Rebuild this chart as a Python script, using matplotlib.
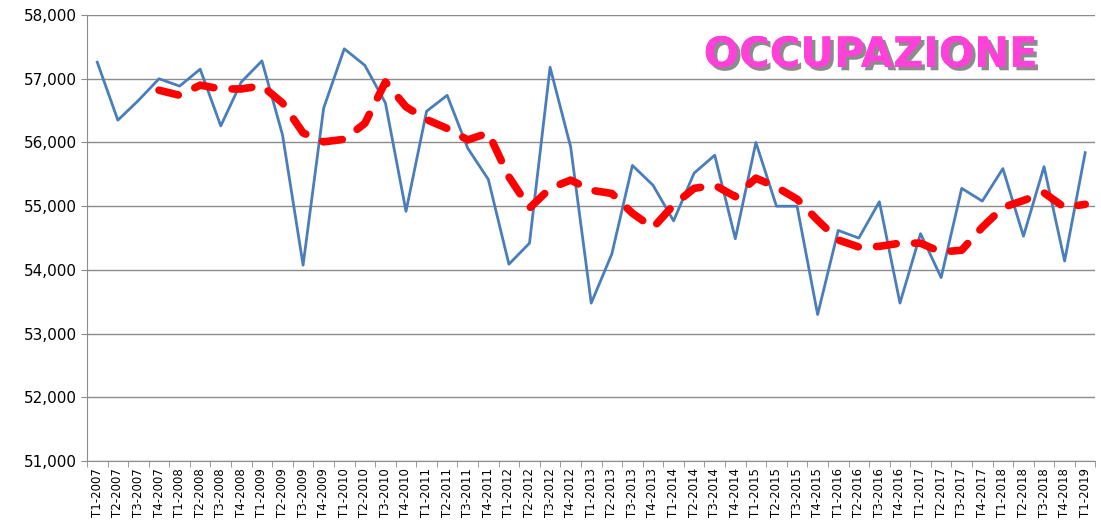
import numpy as np
import matplotlib
matplotlib.use("Agg")
import matplotlib.pyplot as plt
import matplotlib.patheffects as pe
from matplotlib.ticker import FuncFormatter, FixedLocator

years = list(range(2007, 2020))
quarters = ["T{}-{}".format(q, y) for y in years for q in range(1, 5)][:49]

# occupati (migliaia), valori trimestrali
occupati = [57260, 56350, 56660, 57000, 56885, 57150, 56260, 56950, 57280, 56120,
            54075, 56540, 57470, 57210, 56620, 54920, 56490, 56740, 55910, 55420,
            54090, 54420, 57180, 55930, 53480, 54250, 55640, 55330, 54770, 55520,
            55800, 54490, 56000, 55000, 55000, 53300, 54620, 54500, 55070, 53480,
            54570, 53880, 55280, 55080, 55590, 54530, 55620, 54140, 55840]

# media mobile (da T4-2007)
media_start = 3
media = [56820, 56740, 56900, 56840, 56840, 56890, 56620, 56150, 56010, 56050,
         56300, 56950, 56560, 56360, 56220, 56040, 56150, 55460, 54970, 55280,
         55410, 55250, 55200, 54890, 54660, 55020, 55280, 55330, 55150, 55440,
         55300, 55110, 54780, 54470, 54360, 54370, 54420, 54420, 54280, 54310,
         54670, 54980, 55090, 55210, 54980, 55030]

fig = plt.figure(figsize=(11.01, 5.27), dpi=100)
ax = fig.add_axes([0.079, 0.125, 0.916, 0.8465])

x = np.arange(len(quarters))
ax.plot(x, occupati, color="#4A7EBB", lw=2.0, zorder=3)
xm = np.arange(media_start, media_start + len(media))
ax.plot(xm, media, color="#FF0000", lw=5.5, linestyle=(0, (2.6, 2.4)),
        dash_capstyle="round", solid_capstyle="round", zorder=4)

ax.set_ylim(51000, 58000)
ax.set_yticks(np.arange(51000, 58001, 1000))
ax.yaxis.set_major_formatter(FuncFormatter(lambda v, p: "{:,.0f}".format(v)))
ax.grid(axis="y", color="#8C8C8C", lw=1.0)
ax.set_axisbelow(True)

ax.set_xlim(-0.5, len(quarters) - 0.5)
ax.set_xticks(x)
ax.set_xticklabels(quarters, rotation=90, fontsize=8.5)
ax.xaxis.set_minor_locator(FixedLocator(np.arange(-0.5, len(quarters), 1.0)))
ax.tick_params(axis="x", which="major", length=0, pad=5)
ax.tick_params(axis="x", which="minor", length=4, color="#8C8C8C")
ax.tick_params(axis="y", length=4, color="#8C8C8C", labelsize=11)

for s in ["top", "right"]:
    ax.spines[s].set_visible(False)
for s in ["left", "bottom"]:
    ax.spines[s].set_color("#8C8C8C")

fig.text(0.791, 0.896, "OCCUPAZIONE", ha="center", va="center",
         fontsize=30, fontweight="bold", color="#FF40D9",
         path_effects=[pe.withSimplePatchShadow(offset=(2.5, -2.5), shadow_rgbFace="#808080", alpha=0.9),
                       pe.Normal()])

fig.savefig("out.png", dpi=100)
